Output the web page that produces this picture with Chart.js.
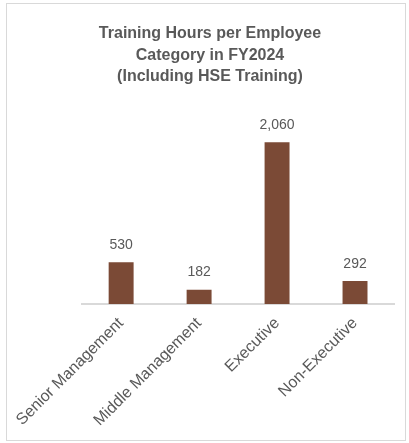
<!DOCTYPE html>
<html>
<head>
<meta charset="utf-8">
<script src="https://cdn.jsdelivr.net/npm/chart.js@4"></script>
<style>
  body { margin: 0; background: #fff; }
  #box {
    position: absolute; left: 6px; top: 3px;
    width: 398px; height: 436px;
    border: 1px solid #d9d9d9;
  }
  #inner {
    position: absolute; left: 9px; top: 0;
    width: 389px; height: 436px;
  }
</style>
</head>
<body>
<div id="box"><div id="inner"><canvas id="trainingChart"></canvas></div></div>
<script>
const categories = ['Senior Management', 'Middle Management', 'Executive', 'Non-Executive'];
const hours = [530, 182, 2060, 292];
const titleLines = ['Training Hours per Employee', 'Category in FY2024', '(Including HSE Training)'];

const textGrey = '#595959';

// value labels above each bar
const barValues = {
    id: 'barValues',
    afterDatasetsDraw(chart) {
        const ctx = chart.ctx;
        const meta = chart.getDatasetMeta(0);
        ctx.save();
        ctx.font = '14px "Liberation Sans", Arial, sans-serif';
        ctx.fillStyle = textGrey;
        ctx.textAlign = 'center';
        ctx.textBaseline = 'middle';
        meta.data.forEach((bar, i) => {
            ctx.fillText(hours[i].toLocaleString('en-US'), bar.x, bar.y - 17);
        });
        ctx.restore();
    }
};

new Chart(document.getElementById('trainingChart').getContext('2d'), {
    type: 'bar',
    data: {
        labels: categories,
        datasets: [{
            data: hours,
            backgroundColor: '#7b4a36',
            borderWidth: 0,
            categoryPercentage: 1,
            barPercentage: 0.32
        }]
    },
    options: {
        responsive: true,
        maintainAspectRatio: false,
        animation: false,
        layout: { padding: { left: 10, right: 11, top: 0, bottom: 8 } },
        scales: {
            x: {
                grid: { display: false },
                border: { color: '#d9d9d9', width: 2 },
                ticks: {
                    color: textGrey,
                    font: { family: '"Liberation Sans", Arial, sans-serif', size: 16 },
                    minRotation: 45,
                    maxRotation: 45,
                    padding: 2
                }
            },
            y: {
                display: false,
                min: 0,
                max: 2500
            }
        },
        plugins: {
            legend: { display: false },
            tooltip: { enabled: false },
            title: {
                display: true,
                text: titleLines,
                color: textGrey,
                font: { family: '"Liberation Sans", Arial, sans-serif', size: 16, weight: 'bold', lineHeight: 1.35 },
                padding: { top: 19, bottom: 20 }
            }
        }
    },
    plugins: [barValues]
});
</script>
</body>
</html>
